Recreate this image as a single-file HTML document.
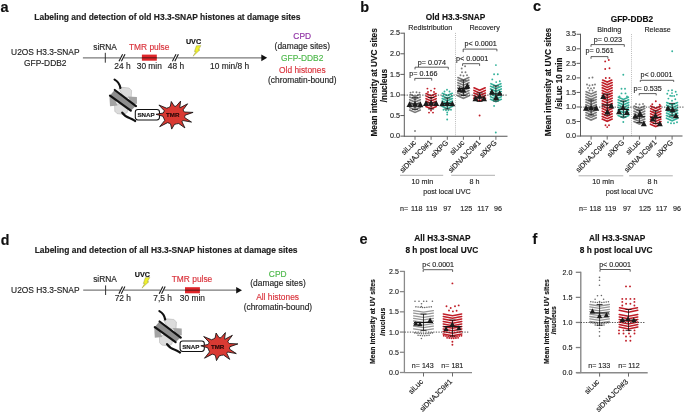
<!DOCTYPE html>
<html><head><meta charset="utf-8"><style>
html,body{margin:0;padding:0;background:#fff;}
#fig{position:relative;width:685px;height:412px;overflow:hidden;background:#fff;}
svg{display:block;font-family:"Liberation Sans", sans-serif;filter:blur(0.3px);}
</style></head><body><div id="fig">
<svg width="685" height="412" viewBox="0 0 685 412">
<text x="0.60" y="11.60" font-size="14.5" font-weight="bold" text-anchor="start" fill="#111" stroke="#111" stroke-width="0.15">a</text>
<text x="360.30" y="11.50" font-size="14.5" font-weight="bold" text-anchor="start" fill="#111" stroke="#111" stroke-width="0.15">b</text>
<text x="533.00" y="11.40" font-size="14.5" font-weight="bold" text-anchor="start" fill="#111" stroke="#111" stroke-width="0.15">c</text>
<text x="0.70" y="245.00" font-size="14.2" font-weight="bold" text-anchor="start" fill="#111" stroke="#111" stroke-width="0.15">d</text>
<text x="359.60" y="244.30" font-size="14.5" font-weight="bold" text-anchor="start" fill="#111" stroke="#111" stroke-width="0.15">e</text>
<text x="532.40" y="243.90" font-size="14.5" font-weight="bold" text-anchor="start" fill="#111" stroke="#111" stroke-width="0.15">f</text>
<text x="167.40" y="20.45" font-size="8.45" font-weight="bold" text-anchor="middle" fill="#222" stroke="#222" stroke-width="0.15">Labeling and detection of old H3.3-SNAP histones at damage sites</text>
<text x="45.30" y="55.45" font-size="8.4" text-anchor="middle" fill="#1e1e1e" stroke="#1e1e1e" stroke-width="0.15">U2OS H3.3-SNAP</text>
<text x="45.30" y="65.95" font-size="8.4" text-anchor="middle" fill="#1e1e1e" stroke="#1e1e1e" stroke-width="0.15">GFP-DDB2</text>
<line x1="82.90" y1="57.80" x2="262.00" y2="57.80" stroke="#7a7a7a" stroke-width="1.3"/>
<path d="M261.3,54.4 L267.2,57.8 L261.3,61.2 Z" fill="#111" stroke="none" stroke-width="1"/>
<line x1="105.30" y1="52.80" x2="105.30" y2="62.70" stroke="#333" stroke-width="1.0"/>
<text x="105.10" y="50.05" font-size="8.4" text-anchor="middle" fill="#1e1e1e" stroke="#1e1e1e" stroke-width="0.15">siRNA</text>
<text x="149.20" y="50.05" font-size="8.4" text-anchor="middle" fill="#d9313a" stroke="#d9313a" stroke-width="0.15">TMR pulse</text>
<rect x="141.90" y="54.60" width="14.90" height="6.10" fill="#e0262a"/>
<line x1="141.90" y1="57.80" x2="156.80" y2="57.80" stroke="#6a1a1a" stroke-width="1.2"/>
<rect x="120.10" y="56.60" width="3.80" height="2.40" fill="#fff"/>
<line x1="119.00" y1="61.30" x2="122.60" y2="54.20" stroke="#1a1a1a" stroke-width="1.1"/>
<line x1="121.40" y1="61.30" x2="125.00" y2="54.20" stroke="#1a1a1a" stroke-width="1.1"/>
<rect x="173.50" y="56.60" width="3.80" height="2.40" fill="#fff"/>
<line x1="172.40" y1="61.30" x2="176.00" y2="54.20" stroke="#1a1a1a" stroke-width="1.1"/>
<line x1="174.80" y1="61.30" x2="178.40" y2="54.20" stroke="#1a1a1a" stroke-width="1.1"/>
<text x="122.50" y="68.95" font-size="8.4" text-anchor="middle" fill="#1e1e1e" stroke="#1e1e1e" stroke-width="0.15">24 h</text>
<text x="149.30" y="68.95" font-size="8.4" text-anchor="middle" fill="#1e1e1e" stroke="#1e1e1e" stroke-width="0.15">30 min</text>
<text x="176.00" y="68.85" font-size="8.4" text-anchor="middle" fill="#1e1e1e" stroke="#1e1e1e" stroke-width="0.15">48 h</text>
<text x="229.60" y="68.95" font-size="8.4" text-anchor="middle" fill="#1e1e1e" stroke="#1e1e1e" stroke-width="0.15">10 min/8 h</text>
<text x="193.50" y="44.35" font-size="7.2" font-weight="bold" text-anchor="middle" fill="#111" stroke="#111" stroke-width="0.15">UVC</text>
<path d="M196.40,45.80 L200.90,45.60 L198.40,50.00 L200.00,49.80 L193.10,56.20 L195.90,51.40 L194.40,51.60 Z" fill="#eef02a" stroke="#8a8a30" stroke-width="0.4"/>
<text x="302.20" y="38.85" font-size="8.4" text-anchor="middle" fill="#8e2fa3" stroke="#8e2fa3" stroke-width="0.15">CPD</text>
<text x="302.30" y="48.85" font-size="8.4" text-anchor="middle" fill="#1e1e1e" stroke="#1e1e1e" stroke-width="0.15">(damage sites)</text>
<text x="302.20" y="61.15" font-size="8.4" text-anchor="middle" fill="#4db84a" stroke="#4db84a" stroke-width="0.15">GFP-DDB2</text>
<text x="302.30" y="73.35" font-size="8.4" text-anchor="middle" fill="#d9313a" stroke="#d9313a" stroke-width="0.15">Old histones</text>
<text x="302.30" y="83.05" font-size="8.4" text-anchor="middle" fill="#1e1e1e" stroke="#1e1e1e" stroke-width="0.15">(chromatin-bound)</text>
<g transform="translate(0.00,0.00)">
<path d="M118.8,88.6 L122,87.3 L129,88.0 L131.6,90.4 L131.2,97.5 L124,97.5 Z" fill="#dcdcdc" stroke="#a8a8a8" stroke-width="0.5"/>
<path d="M114.6,104.5 L121,103.5 L127.8,108 L127.2,112.6 L123.6,114.4 L117,113.6 L114.8,111.2 Z" fill="#dcdcdc" stroke="#a8a8a8" stroke-width="0.5"/>
<path d="M128.0,96.6 L136.9,97.0 L137.0,103.8 L131.5,104.2 Z" fill="#a4a4a4" stroke="none" stroke-width="1"/>
<path d="M109.4,95.8 L113.5,95.6 L117.5,105.6 L110.0,106.2 Z" fill="#a4a4a4" stroke="none" stroke-width="1"/>
<path d="M114.6,89.9 L135.8,105.9 L131.0,110.4 L110.0,95.6 Z" fill="#8e8e8e" stroke="none" stroke-width="1"/>
<line x1="114.80" y1="90.00" x2="136.00" y2="106.20" stroke="#111" stroke-width="2.2" stroke-linecap="round"/>
<line x1="110.00" y1="95.60" x2="130.80" y2="110.60" stroke="#111" stroke-width="2.2" stroke-linecap="round"/>
<path d="M114.6,79.6 C117.6,81.2 119.8,84.5 120.4,88.0" fill="none" stroke="#111" stroke-width="2.2" stroke-linecap="round"/>
<path d="M122.2,112.6 C124.5,116.0 127.5,117.5 130,118.2 C132.5,119 134,120.2 135.2,121.0" fill="none" stroke="#111" stroke-width="2.2" stroke-linecap="round"/>
<rect x="135.3" y="109.5" width="24.2" height="10.4" rx="2.6" fill="#fff" stroke="#111" stroke-width="1.05"/>
<text x="146.00" y="117.40" font-size="6.2" font-weight="bold" text-anchor="middle" fill="#1a1a1a" stroke="#1a1a1a" stroke-width="0.15">SNAP</text>
<path d="M164.25,110.68 L158.90,105.00 L166.72,108.22 L168.59,107.47 L170.32,106.53 L171.30,101.50 L174.16,106.02 L175.12,106.34 L176.14,106.18 L180.60,101.10 L179.77,107.33 L179.87,107.70 L180.32,107.62 L187.60,103.80 L183.10,109.85 L183.60,111.03 L184.52,112.04 L193.10,112.40 L185.20,115.18 L184.76,116.40 L184.78,117.68 L191.50,122.10 L183.10,120.56 L182.29,120.96 L181.94,121.68 L184.90,127.90 L178.76,123.51 L176.57,123.85 L174.44,124.38 L171.70,129.10 L170.59,123.95 L169.13,123.16 L167.49,122.67 L159.70,126.70 L164.76,120.39 L163.82,118.32 L162.87,116.24 L156.00,114.30 L163.11,113.06 L163.89,111.94 Z" fill="#d93a33" stroke="#111" stroke-width="0.85" stroke-linejoin="miter"/>
<text x="172.80" y="117.30" font-size="6.2" font-weight="bold" text-anchor="middle" fill="#2a0808" stroke="#2a0808" stroke-width="0.15">TMR</text>
</g>
<text x="166.10" y="253.25" font-size="8.45" font-weight="bold" text-anchor="middle" fill="#222" stroke="#222" stroke-width="0.15">Labeling and detection of all H3.3-SNAP histones at damage sites</text>
<text x="45.30" y="292.85" font-size="8.4" text-anchor="middle" fill="#1e1e1e" stroke="#1e1e1e" stroke-width="0.15">U2OS H3.3-SNAP</text>
<line x1="83.20" y1="290.20" x2="237.00" y2="290.20" stroke="#7a7a7a" stroke-width="1.3"/>
<path d="M236.2,286.9 L242.0,290.2 L236.2,293.5 Z" fill="#111" stroke="none" stroke-width="1"/>
<line x1="105.60" y1="285.40" x2="105.60" y2="295.00" stroke="#333" stroke-width="1.0"/>
<text x="105.00" y="282.35" font-size="8.4" text-anchor="middle" fill="#1e1e1e" stroke="#1e1e1e" stroke-width="0.15">siRNA</text>
<rect x="120.00" y="289.00" width="3.80" height="2.40" fill="#fff"/>
<line x1="118.90" y1="293.70" x2="122.50" y2="286.60" stroke="#1a1a1a" stroke-width="1.1"/>
<line x1="121.30" y1="293.70" x2="124.90" y2="286.60" stroke="#1a1a1a" stroke-width="1.1"/>
<rect x="160.30" y="289.00" width="3.80" height="2.40" fill="#fff"/>
<line x1="159.20" y1="293.70" x2="162.80" y2="286.60" stroke="#1a1a1a" stroke-width="1.1"/>
<line x1="161.60" y1="293.70" x2="165.20" y2="286.60" stroke="#1a1a1a" stroke-width="1.1"/>
<text x="122.80" y="300.75" font-size="8.4" text-anchor="middle" fill="#1e1e1e" stroke="#1e1e1e" stroke-width="0.15">72 h</text>
<text x="162.60" y="300.75" font-size="8.4" text-anchor="middle" fill="#1e1e1e" stroke="#1e1e1e" stroke-width="0.15">7,5 h</text>
<text x="142.30" y="277.05" font-size="7.2" font-weight="bold" text-anchor="middle" fill="#111" stroke="#111" stroke-width="0.15">UVC</text>
<path d="M145.30,277.70 L149.80,277.50 L147.30,281.90 L148.90,281.70 L142.00,288.10 L144.80,283.30 L143.30,283.50 Z" fill="#eef02a" stroke="#8a8a30" stroke-width="0.4"/>
<text x="192.00" y="282.35" font-size="8.4" text-anchor="middle" fill="#d9313a" stroke="#d9313a" stroke-width="0.15">TMR pulse</text>
<rect x="185.00" y="287.20" width="14.90" height="6.10" fill="#e0262a"/>
<line x1="185.00" y1="290.20" x2="199.90" y2="290.20" stroke="#6a1a1a" stroke-width="1.2"/>
<text x="192.40" y="300.75" font-size="8.4" text-anchor="middle" fill="#1e1e1e" stroke="#1e1e1e" stroke-width="0.15">30 min</text>
<text x="277.70" y="276.55" font-size="8.4" text-anchor="middle" fill="#4db84a" stroke="#4db84a" stroke-width="0.15">CPD</text>
<text x="278.00" y="286.35" font-size="8.4" text-anchor="middle" fill="#1e1e1e" stroke="#1e1e1e" stroke-width="0.15">(damage sites)</text>
<text x="277.60" y="299.85" font-size="8.4" text-anchor="middle" fill="#d9313a" stroke="#d9313a" stroke-width="0.15">All histones</text>
<text x="277.90" y="309.85" font-size="8.4" text-anchor="middle" fill="#1e1e1e" stroke="#1e1e1e" stroke-width="0.15">(chromatin-bound)</text>
<g transform="translate(44.80,231.50)">
<path d="M118.8,88.6 L122,87.3 L129,88.0 L131.6,90.4 L131.2,97.5 L124,97.5 Z" fill="#dcdcdc" stroke="#a8a8a8" stroke-width="0.5"/>
<path d="M114.6,104.5 L121,103.5 L127.8,108 L127.2,112.6 L123.6,114.4 L117,113.6 L114.8,111.2 Z" fill="#dcdcdc" stroke="#a8a8a8" stroke-width="0.5"/>
<path d="M128.0,96.6 L136.9,97.0 L137.0,103.8 L131.5,104.2 Z" fill="#a4a4a4" stroke="none" stroke-width="1"/>
<path d="M109.4,95.8 L113.5,95.6 L117.5,105.6 L110.0,106.2 Z" fill="#a4a4a4" stroke="none" stroke-width="1"/>
<path d="M114.6,89.9 L135.8,105.9 L131.0,110.4 L110.0,95.6 Z" fill="#8e8e8e" stroke="none" stroke-width="1"/>
<line x1="114.80" y1="90.00" x2="136.00" y2="106.20" stroke="#111" stroke-width="2.2" stroke-linecap="round"/>
<line x1="110.00" y1="95.60" x2="130.80" y2="110.60" stroke="#111" stroke-width="2.2" stroke-linecap="round"/>
<path d="M114.6,79.6 C117.6,81.2 119.8,84.5 120.4,88.0" fill="none" stroke="#111" stroke-width="2.2" stroke-linecap="round"/>
<path d="M122.2,112.6 C124.5,116.0 127.5,117.5 130,118.2 C132.5,119 134,120.2 135.2,121.0" fill="none" stroke="#111" stroke-width="2.2" stroke-linecap="round"/>
<rect x="135.3" y="109.5" width="24.2" height="10.4" rx="2.6" fill="#fff" stroke="#111" stroke-width="1.05"/>
<text x="146.00" y="117.40" font-size="6.2" font-weight="bold" text-anchor="middle" fill="#1a1a1a" stroke="#1a1a1a" stroke-width="0.15">SNAP</text>
<path d="M164.25,110.68 L158.90,105.00 L166.72,108.22 L168.59,107.47 L170.32,106.53 L171.30,101.50 L174.16,106.02 L175.12,106.34 L176.14,106.18 L180.60,101.10 L179.77,107.33 L179.87,107.70 L180.32,107.62 L187.60,103.80 L183.10,109.85 L183.60,111.03 L184.52,112.04 L193.10,112.40 L185.20,115.18 L184.76,116.40 L184.78,117.68 L191.50,122.10 L183.10,120.56 L182.29,120.96 L181.94,121.68 L184.90,127.90 L178.76,123.51 L176.57,123.85 L174.44,124.38 L171.70,129.10 L170.59,123.95 L169.13,123.16 L167.49,122.67 L159.70,126.70 L164.76,120.39 L163.82,118.32 L162.87,116.24 L156.00,114.30 L163.11,113.06 L163.89,111.94 Z" fill="#d93a33" stroke="#111" stroke-width="0.85" stroke-linejoin="miter"/>
<text x="172.80" y="117.30" font-size="6.2" font-weight="bold" text-anchor="middle" fill="#2a0808" stroke="#2a0808" stroke-width="0.15">TMR</text>
</g>
<text x="455.60" y="19.60" font-size="8.3" font-weight="bold" text-anchor="middle" fill="#111" stroke="#111" stroke-width="0.15">Old H3.3-SNAP</text>
<text x="0.00" y="0.00" font-size="7.9" text-anchor="middle" fill="#1e1e1e" stroke="#1e1e1e" stroke-width="0.15" transform="translate(430.30 30.10) scale(0.91 1)">Redistribution</text>
<text x="0.00" y="0.00" font-size="7.9" text-anchor="middle" fill="#1e1e1e" stroke="#1e1e1e" stroke-width="0.15" transform="translate(484.60 30.10) scale(0.91 1)">Recovery</text>
<line x1="455.50" y1="32.90" x2="455.50" y2="136.30" stroke="#a8a8a8" stroke-width="0.8" stroke-dasharray="1,1.1"/>
<line x1="404.30" y1="32.70" x2="404.30" y2="136.80" stroke="#5a5a5a" stroke-width="1.0"/>
<line x1="400.40" y1="136.15" x2="404.30" y2="136.15" stroke="#5a5a5a" stroke-width="1.0"/>
<text x="0.00" y="0.00" font-size="7.9" text-anchor="end" fill="#222" stroke="#222" stroke-width="0.15" transform="translate(399.90 138.35) scale(0.91 1)">0.0</text>
<line x1="400.40" y1="115.56" x2="404.30" y2="115.56" stroke="#5a5a5a" stroke-width="1.0"/>
<text x="0.00" y="0.00" font-size="7.9" text-anchor="end" fill="#222" stroke="#222" stroke-width="0.15" transform="translate(399.90 117.76) scale(0.91 1)">0.5</text>
<line x1="400.40" y1="94.97" x2="404.30" y2="94.97" stroke="#5a5a5a" stroke-width="1.0"/>
<text x="0.00" y="0.00" font-size="7.9" text-anchor="end" fill="#222" stroke="#222" stroke-width="0.15" transform="translate(399.90 97.17) scale(0.91 1)">1.0</text>
<line x1="400.40" y1="74.38" x2="404.30" y2="74.38" stroke="#5a5a5a" stroke-width="1.0"/>
<text x="0.00" y="0.00" font-size="7.9" text-anchor="end" fill="#222" stroke="#222" stroke-width="0.15" transform="translate(399.90 76.58) scale(0.91 1)">1.5</text>
<line x1="400.40" y1="53.79" x2="404.30" y2="53.79" stroke="#5a5a5a" stroke-width="1.0"/>
<text x="0.00" y="0.00" font-size="7.9" text-anchor="end" fill="#222" stroke="#222" stroke-width="0.15" transform="translate(399.90 55.99) scale(0.91 1)">2.0</text>
<line x1="400.40" y1="33.20" x2="404.30" y2="33.20" stroke="#5a5a5a" stroke-width="1.0"/>
<text x="0.00" y="0.00" font-size="7.9" text-anchor="end" fill="#222" stroke="#222" stroke-width="0.15" transform="translate(399.90 35.40) scale(0.91 1)">2.5</text>
<path d="M410.40,94.50L415.00,96.57L419.60,94.50M409.70,97.10L415.00,99.48L420.30,97.10M409.70,99.70L415.00,102.08L420.30,99.70M409.70,102.30L415.00,104.68L420.30,102.30M409.70,104.90L415.00,107.28L420.30,104.90M409.70,107.50L415.00,109.88L420.30,107.50M409.70,110.10L415.00,112.48L420.30,110.10" fill="none" stroke="#7c7c7c" stroke-width="1.6" stroke-linecap="round"/>
<g fill="#7c7c7c"><circle cx="410.50" cy="92.60" r="0.95"/><circle cx="413.00" cy="92.10" r="0.95"/><circle cx="416.50" cy="92.30" r="0.95"/><circle cx="419.50" cy="92.60" r="0.95"/><circle cx="415.00" cy="131.00" r="0.95"/></g>
<path d="M426.10,93.50L431.10,95.75L436.10,93.50M426.06,96.10L431.10,98.37L436.14,96.10M426.03,98.70L431.10,100.98L436.17,98.70M425.99,101.30L431.10,103.60L436.21,101.30M425.96,103.90L431.10,106.21L436.24,103.90M425.92,106.50L431.10,108.83L436.28,106.50" fill="none" stroke="#c01d27" stroke-width="1.6" stroke-linecap="round"/>
<g fill="#c01d27"><circle cx="427.40" cy="88.60" r="0.95"/><circle cx="434.60" cy="88.60" r="0.95"/><circle cx="431.00" cy="90.60" r="0.95"/><circle cx="428.00" cy="92.00" r="0.95"/><circle cx="434.00" cy="92.00" r="0.95"/><circle cx="429.00" cy="112.60" r="0.95"/><circle cx="433.00" cy="112.60" r="0.95"/><circle cx="431.00" cy="110.60" r="0.95"/></g>
<path d="M442.30,93.30L447.30,95.55L452.30,93.30M442.24,95.90L447.30,98.18L452.36,95.90M442.18,98.50L447.30,100.80L452.42,98.50M442.12,101.10L447.30,103.43L452.48,101.10M442.06,103.70L447.30,106.06L452.54,103.70M442.00,106.30L447.30,108.68L452.60,106.30" fill="none" stroke="#34b29b" stroke-width="1.6" stroke-linecap="round"/>
<g fill="#34b29b"><circle cx="447.00" cy="89.70" r="0.95"/><circle cx="444.50" cy="91.50" r="0.95"/><circle cx="449.50" cy="91.50" r="0.95"/><circle cx="443.50" cy="109.80" r="0.95"/><circle cx="446.00" cy="110.30" r="0.95"/><circle cx="448.50" cy="110.30" r="0.95"/><circle cx="451.00" cy="109.80" r="0.95"/><circle cx="447.20" cy="112.50" r="0.95"/><circle cx="447.20" cy="114.60" r="0.95"/><circle cx="447.20" cy="119.50" r="0.95"/></g>
<path d="M457.90,77.50L463.40,79.97L468.90,77.50M457.87,80.10L463.40,82.59L468.93,80.10M457.84,82.70L463.40,85.20L468.96,82.70M457.82,85.30L463.40,87.81L468.98,85.30M457.79,87.90L463.40,90.43L469.01,87.90M457.76,90.50L463.40,93.04L469.04,90.50M457.73,93.10L463.40,95.65L469.07,93.10M457.70,95.70L463.40,98.26L469.10,95.70" fill="none" stroke="#7c7c7c" stroke-width="1.6" stroke-linecap="round"/>
<g fill="#7c7c7c"><circle cx="461.70" cy="68.50" r="0.95"/><circle cx="465.10" cy="66.20" r="0.95"/><circle cx="462.00" cy="72.20" r="0.95"/><circle cx="465.50" cy="72.20" r="0.95"/><circle cx="460.50" cy="75.20" r="0.95"/><circle cx="463.50" cy="75.80" r="0.95"/><circle cx="467.00" cy="75.20" r="0.95"/></g>
<path d="M474.00,87.80L479.60,90.32L485.20,87.80M473.92,90.40L479.60,92.96L485.28,90.40M473.84,93.00L479.60,95.59L485.36,93.00M473.75,95.60L479.60,98.23L485.45,95.60M473.67,98.20L479.60,100.87L485.53,98.20" fill="none" stroke="#c01d27" stroke-width="1.6" stroke-linecap="round"/>
<g fill="#c01d27"><circle cx="479.60" cy="115.50" r="0.95"/></g>
<path d="M490.90,83.70L495.90,85.95L500.90,83.70M490.50,86.30L495.90,88.73L501.30,86.30M490.50,88.90L495.90,91.33L501.30,88.90M490.50,91.50L495.90,93.93L501.30,91.50M490.50,94.10L495.90,96.53L501.30,94.10M490.50,96.70L495.90,99.13L501.30,96.70M490.50,99.30L495.90,101.73L501.30,99.30" fill="none" stroke="#34b29b" stroke-width="1.6" stroke-linecap="round"/>
<g fill="#34b29b"><circle cx="495.90" cy="65.10" r="0.95"/><circle cx="494.10" cy="74.30" r="0.95"/><circle cx="497.80" cy="74.30" r="0.95"/><circle cx="492.30" cy="79.40" r="0.95"/><circle cx="496.20" cy="82.10" r="0.95"/><circle cx="499.80" cy="81.30" r="0.95"/><circle cx="494.10" cy="105.90" r="0.95"/><circle cx="495.80" cy="132.50" r="0.95"/></g>
<line x1="404.00" y1="95.10" x2="508.00" y2="95.10" stroke="#222" stroke-width="0.8" stroke-dasharray="1.3,1.3"/>
<line x1="415.00" y1="97.60" x2="415.00" y2="109.30" stroke="#111" stroke-width="0.8"/>
<line x1="412.00" y1="97.60" x2="418.00" y2="97.60" stroke="#111" stroke-width="0.8"/>
<line x1="412.00" y1="109.30" x2="418.00" y2="109.30" stroke="#111" stroke-width="0.8"/>
<line x1="409.50" y1="104.00" x2="420.50" y2="104.00" stroke="#111" stroke-width="1.1"/>
<path d="M406.50,107.05 L409.50,101.35 L412.50,107.05 Z" fill="#1c1c1c" stroke="none" stroke-width="1"/>
<path d="M412.00,106.85 L415.00,101.15 L418.00,106.85 Z" fill="#1c1c1c" stroke="none" stroke-width="1"/>
<path d="M417.40,107.15 L420.40,101.45 L423.40,107.15 Z" fill="#1c1c1c" stroke="none" stroke-width="1"/>
<line x1="431.10" y1="97.50" x2="431.10" y2="109.00" stroke="#111" stroke-width="0.8"/>
<line x1="428.10" y1="97.50" x2="434.10" y2="97.50" stroke="#111" stroke-width="0.8"/>
<line x1="428.10" y1="109.00" x2="434.10" y2="109.00" stroke="#111" stroke-width="0.8"/>
<line x1="425.60" y1="103.00" x2="436.60" y2="103.00" stroke="#111" stroke-width="1.1"/>
<path d="M423.00,105.95 L426.00,100.25 L429.00,105.95 Z" fill="#1c1c1c" stroke="none" stroke-width="1"/>
<path d="M428.10,105.65 L431.10,99.95 L434.10,105.65 Z" fill="#1c1c1c" stroke="none" stroke-width="1"/>
<path d="M433.20,106.05 L436.20,100.35 L439.20,106.05 Z" fill="#1c1c1c" stroke="none" stroke-width="1"/>
<line x1="447.30" y1="98.00" x2="447.30" y2="109.00" stroke="#111" stroke-width="0.8"/>
<line x1="444.30" y1="98.00" x2="450.30" y2="98.00" stroke="#111" stroke-width="0.8"/>
<line x1="444.30" y1="109.00" x2="450.30" y2="109.00" stroke="#111" stroke-width="0.8"/>
<line x1="441.80" y1="103.40" x2="452.80" y2="103.40" stroke="#111" stroke-width="1.1"/>
<path d="M439.30,106.25 L442.30,100.55 L445.30,106.25 Z" fill="#1c1c1c" stroke="none" stroke-width="1"/>
<path d="M444.30,106.05 L447.30,100.35 L450.30,106.05 Z" fill="#1c1c1c" stroke="none" stroke-width="1"/>
<path d="M449.30,106.35 L452.30,100.65 L455.30,106.35 Z" fill="#1c1c1c" stroke="none" stroke-width="1"/>
<line x1="463.40" y1="80.20" x2="463.40" y2="95.40" stroke="#111" stroke-width="0.8"/>
<line x1="460.40" y1="80.20" x2="466.40" y2="80.20" stroke="#111" stroke-width="0.8"/>
<line x1="460.40" y1="95.40" x2="466.40" y2="95.40" stroke="#111" stroke-width="0.8"/>
<line x1="457.90" y1="88.50" x2="468.90" y2="88.50" stroke="#111" stroke-width="1.1"/>
<path d="M456.70,92.15 L459.70,86.45 L462.70,92.15 Z" fill="#1c1c1c" stroke="none" stroke-width="1"/>
<path d="M464.30,88.55 L467.30,82.85 L470.30,88.55 Z" fill="#1c1c1c" stroke="none" stroke-width="1"/>
<path d="M460.30,92.45 L463.30,86.75 L466.30,92.45 Z" fill="#1c1c1c" stroke="none" stroke-width="1"/>
<line x1="479.60" y1="93.00" x2="479.60" y2="101.50" stroke="#111" stroke-width="0.8"/>
<line x1="476.60" y1="93.00" x2="482.60" y2="93.00" stroke="#111" stroke-width="0.8"/>
<line x1="476.60" y1="101.50" x2="482.60" y2="101.50" stroke="#111" stroke-width="0.8"/>
<line x1="474.10" y1="97.20" x2="485.10" y2="97.20" stroke="#111" stroke-width="1.1"/>
<path d="M472.50,101.25 L475.50,95.55 L478.50,101.25 Z" fill="#1c1c1c" stroke="none" stroke-width="1"/>
<path d="M476.60,98.85 L479.60,93.15 L482.60,98.85 Z" fill="#1c1c1c" stroke="none" stroke-width="1"/>
<path d="M481.00,101.25 L484.00,95.55 L487.00,101.25 Z" fill="#1c1c1c" stroke="none" stroke-width="1"/>
<line x1="495.90" y1="86.00" x2="495.90" y2="101.00" stroke="#111" stroke-width="0.8"/>
<line x1="492.90" y1="86.00" x2="498.90" y2="86.00" stroke="#111" stroke-width="0.8"/>
<line x1="492.90" y1="101.00" x2="498.90" y2="101.00" stroke="#111" stroke-width="0.8"/>
<line x1="490.40" y1="94.00" x2="501.40" y2="94.00" stroke="#111" stroke-width="1.1"/>
<path d="M488.90,94.55 L491.90,88.85 L494.90,94.55 Z" fill="#1c1c1c" stroke="none" stroke-width="1"/>
<path d="M496.70,95.85 L499.70,90.15 L502.70,95.85 Z" fill="#1c1c1c" stroke="none" stroke-width="1"/>
<path d="M493.10,100.05 L496.10,94.35 L499.10,100.05 Z" fill="#1c1c1c" stroke="none" stroke-width="1"/>
<line x1="404.30" y1="136.20" x2="507.50" y2="136.20" stroke="#555" stroke-width="1.05"/>
<line x1="415.00" y1="136.30" x2="415.00" y2="139.80" stroke="#5a5a5a" stroke-width="0.9"/>
<line x1="431.10" y1="136.30" x2="431.10" y2="139.80" stroke="#5a5a5a" stroke-width="0.9"/>
<line x1="447.30" y1="136.30" x2="447.30" y2="139.80" stroke="#5a5a5a" stroke-width="0.9"/>
<line x1="463.40" y1="136.30" x2="463.40" y2="139.80" stroke="#5a5a5a" stroke-width="0.9"/>
<line x1="479.60" y1="136.30" x2="479.60" y2="139.80" stroke="#5a5a5a" stroke-width="0.9"/>
<line x1="495.90" y1="136.30" x2="495.90" y2="139.80" stroke="#5a5a5a" stroke-width="0.9"/>
<text x="0.00" y="0.00" font-size="7.9" text-anchor="middle" fill="#1e1e1e" stroke="#1e1e1e" stroke-width="0.15" transform="translate(423.30 76.30) scale(0.91 1)">p= 0.166</text>
<path d="M414.80,80.60 L414.80,78.40 L431.70,78.40 L431.70,80.60" fill="none" stroke="#333" stroke-width="0.8"/>
<text x="0.00" y="0.00" font-size="7.9" text-anchor="middle" fill="#1e1e1e" stroke="#1e1e1e" stroke-width="0.15" transform="translate(431.80 64.70) scale(0.91 1)">p= 0.074</text>
<path d="M415.00,69.40 L415.00,67.20 L448.30,67.20 L448.30,69.40" fill="none" stroke="#333" stroke-width="0.8"/>
<text x="0.00" y="0.00" font-size="7.9" text-anchor="middle" fill="#1e1e1e" stroke="#1e1e1e" stroke-width="0.15" transform="translate(472.20 60.80) scale(0.91 1)">p&lt; 0.0001</text>
<path d="M462.60,65.90 L462.60,63.70 L479.60,63.70 L479.60,65.90" fill="none" stroke="#333" stroke-width="0.8"/>
<text x="0.00" y="0.00" font-size="7.9" text-anchor="middle" fill="#1e1e1e" stroke="#1e1e1e" stroke-width="0.15" transform="translate(480.60 46.20) scale(0.91 1)">p&lt; 0.0001</text>
<path d="M463.20,52.10 L463.20,49.10 L496.90,49.10 L496.90,51.30" fill="none" stroke="#333" stroke-width="0.8"/>
<text x="377.30" y="82.40" font-size="8.3" font-weight="bold" text-anchor="middle" fill="#111" stroke="#111" stroke-width="0.15" transform="rotate(-90 377.30 82.40)">Mean intensity at UVC sites</text>
<text x="387.20" y="85.60" font-size="8.2" font-weight="bold" text-anchor="middle" fill="#111" stroke="#111" stroke-width="0.15" transform="rotate(-90 387.20 85.60)">/nucleus</text>
<text x="416.50" y="143.10" font-size="7.4" text-anchor="end" fill="#222" stroke="#222" stroke-width="0.15" transform="rotate(-45 416.50 143.10)">siLuc</text>
<text x="432.60" y="143.10" font-size="7.4" text-anchor="end" fill="#222" stroke="#222" stroke-width="0.15" transform="rotate(-45 432.60 143.10)">siDNAJC9#1</text>
<text x="448.80" y="143.10" font-size="7.4" text-anchor="end" fill="#222" stroke="#222" stroke-width="0.15" transform="rotate(-45 448.80 143.10)">siXPG</text>
<text x="464.90" y="143.10" font-size="7.4" text-anchor="end" fill="#222" stroke="#222" stroke-width="0.15" transform="rotate(-45 464.90 143.10)">siLuc</text>
<text x="481.10" y="143.10" font-size="7.4" text-anchor="end" fill="#222" stroke="#222" stroke-width="0.15" transform="rotate(-45 481.10 143.10)">siDNAJC9#1</text>
<text x="497.40" y="143.10" font-size="7.4" text-anchor="end" fill="#222" stroke="#222" stroke-width="0.15" transform="rotate(-45 497.40 143.10)">siXPG</text>
<line x1="400.00" y1="175.30" x2="443.20" y2="175.30" stroke="#b0b0b0" stroke-width="1.0"/>
<line x1="451.20" y1="175.30" x2="495.00" y2="175.30" stroke="#b0b0b0" stroke-width="1.0"/>
<text x="0.00" y="0.00" font-size="7.9" text-anchor="middle" fill="#1e1e1e" stroke="#1e1e1e" stroke-width="0.15" transform="translate(422.40 183.50) scale(0.91 1)">10 min</text>
<text x="0.00" y="0.00" font-size="7.9" text-anchor="middle" fill="#1e1e1e" stroke="#1e1e1e" stroke-width="0.15" transform="translate(474.40 183.50) scale(0.91 1)">8 h</text>
<text x="0.00" y="0.00" font-size="7.9" text-anchor="middle" fill="#1e1e1e" stroke="#1e1e1e" stroke-width="0.15" transform="translate(446.90 193.80) scale(0.91 1)">post local UVC</text>
<text x="0.00" y="0.00" font-size="7.9" text-anchor="middle" fill="#1e1e1e" stroke="#1e1e1e" stroke-width="0.15" transform="translate(404.00 210.70) scale(0.91 1)">n=</text>
<text x="0.00" y="0.00" font-size="7.9" text-anchor="middle" fill="#1e1e1e" stroke="#1e1e1e" stroke-width="0.15" transform="translate(416.80 210.70) scale(0.91 1)">118</text>
<text x="0.00" y="0.00" font-size="7.9" text-anchor="middle" fill="#1e1e1e" stroke="#1e1e1e" stroke-width="0.15" transform="translate(431.50 210.70) scale(0.91 1)">119</text>
<text x="0.00" y="0.00" font-size="7.9" text-anchor="middle" fill="#1e1e1e" stroke="#1e1e1e" stroke-width="0.15" transform="translate(447.30 210.70) scale(0.91 1)">97</text>
<text x="0.00" y="0.00" font-size="7.9" text-anchor="middle" fill="#1e1e1e" stroke="#1e1e1e" stroke-width="0.15" transform="translate(466.20 210.70) scale(0.91 1)">125</text>
<text x="0.00" y="0.00" font-size="7.9" text-anchor="middle" fill="#1e1e1e" stroke="#1e1e1e" stroke-width="0.15" transform="translate(483.10 210.70) scale(0.91 1)">117</text>
<text x="0.00" y="0.00" font-size="7.9" text-anchor="middle" fill="#1e1e1e" stroke="#1e1e1e" stroke-width="0.15" transform="translate(498.00 210.70) scale(0.91 1)">96</text>
<text x="631.90" y="21.60" font-size="8.3" font-weight="bold" text-anchor="middle" fill="#111" stroke="#111" stroke-width="0.15">GFP-DDB2</text>
<text x="0.00" y="0.00" font-size="7.9" text-anchor="middle" fill="#1e1e1e" stroke="#1e1e1e" stroke-width="0.15" transform="translate(609.20 31.90) scale(0.91 1)">Binding</text>
<text x="0.00" y="0.00" font-size="7.9" text-anchor="middle" fill="#1e1e1e" stroke="#1e1e1e" stroke-width="0.15" transform="translate(657.60 31.90) scale(0.91 1)">Release</text>
<line x1="631.50" y1="34.10" x2="631.50" y2="136.10" stroke="#a8a8a8" stroke-width="0.8" stroke-dasharray="1,1.1"/>
<line x1="580.50" y1="33.77" x2="580.50" y2="136.55" stroke="#5a5a5a" stroke-width="1.0"/>
<line x1="576.60" y1="136.05" x2="580.50" y2="136.05" stroke="#5a5a5a" stroke-width="1.0"/>
<text x="0.00" y="0.00" font-size="7.9" text-anchor="end" fill="#222" stroke="#222" stroke-width="0.15" transform="translate(576.10 138.25) scale(0.91 1)">0.0</text>
<line x1="576.60" y1="121.51" x2="580.50" y2="121.51" stroke="#5a5a5a" stroke-width="1.0"/>
<text x="0.00" y="0.00" font-size="7.9" text-anchor="end" fill="#222" stroke="#222" stroke-width="0.15" transform="translate(576.10 123.71) scale(0.91 1)">0.5</text>
<line x1="576.60" y1="106.97" x2="580.50" y2="106.97" stroke="#5a5a5a" stroke-width="1.0"/>
<text x="0.00" y="0.00" font-size="7.9" text-anchor="end" fill="#222" stroke="#222" stroke-width="0.15" transform="translate(576.10 109.17) scale(0.91 1)">1.0</text>
<line x1="576.60" y1="92.43" x2="580.50" y2="92.43" stroke="#5a5a5a" stroke-width="1.0"/>
<text x="0.00" y="0.00" font-size="7.9" text-anchor="end" fill="#222" stroke="#222" stroke-width="0.15" transform="translate(576.10 94.63) scale(0.91 1)">1.5</text>
<line x1="576.60" y1="77.89" x2="580.50" y2="77.89" stroke="#5a5a5a" stroke-width="1.0"/>
<text x="0.00" y="0.00" font-size="7.9" text-anchor="end" fill="#222" stroke="#222" stroke-width="0.15" transform="translate(576.10 80.09) scale(0.91 1)">2.0</text>
<line x1="576.60" y1="63.35" x2="580.50" y2="63.35" stroke="#5a5a5a" stroke-width="1.0"/>
<text x="0.00" y="0.00" font-size="7.9" text-anchor="end" fill="#222" stroke="#222" stroke-width="0.15" transform="translate(576.10 65.55) scale(0.91 1)">2.5</text>
<line x1="576.60" y1="48.81" x2="580.50" y2="48.81" stroke="#5a5a5a" stroke-width="1.0"/>
<text x="0.00" y="0.00" font-size="7.9" text-anchor="end" fill="#222" stroke="#222" stroke-width="0.15" transform="translate(576.10 51.01) scale(0.91 1)">3.0</text>
<line x1="576.60" y1="34.27" x2="580.50" y2="34.27" stroke="#5a5a5a" stroke-width="1.0"/>
<text x="0.00" y="0.00" font-size="7.9" text-anchor="end" fill="#222" stroke="#222" stroke-width="0.15" transform="translate(576.10 36.47) scale(0.91 1)">3.5</text>
<path d="M586.10,91.70L591.10,93.95L596.10,91.70M585.90,94.30L591.10,96.64L596.30,94.30M585.90,96.90L591.10,99.24L596.30,96.90M585.90,99.50L591.10,101.84L596.30,99.50M585.90,102.10L591.10,104.44L596.30,102.10M585.90,104.70L591.10,107.04L596.30,104.70M585.90,107.30L591.10,109.64L596.30,107.30M585.90,109.90L591.10,112.24L596.30,109.90M585.90,112.50L591.10,114.84L596.30,112.50M585.90,115.10L591.10,117.44L596.30,115.10M585.90,117.70L591.10,120.04L596.30,117.70" fill="none" stroke="#7c7c7c" stroke-width="1.6" stroke-linecap="round"/>
<g fill="#7c7c7c"><circle cx="589.20" cy="77.90" r="0.95"/><circle cx="592.50" cy="77.50" r="0.95"/><circle cx="587.00" cy="84.50" r="0.95"/><circle cx="589.50" cy="85.50" r="0.95"/><circle cx="592.50" cy="85.00" r="0.95"/><circle cx="595.00" cy="84.50" r="0.95"/><circle cx="588.00" cy="88.00" r="0.95"/><circle cx="591.00" cy="88.40" r="0.95"/><circle cx="594.00" cy="88.00" r="0.95"/><circle cx="589.50" cy="90.50" r="0.95"/><circle cx="592.50" cy="90.50" r="0.95"/></g>
<path d="M602.60,80.00L607.20,82.07L611.80,80.00M602.20,82.60L607.20,84.85L612.20,82.60M602.20,85.20L607.20,87.45L612.20,85.20M602.20,87.80L607.20,90.05L612.20,87.80M602.20,90.40L607.20,92.65L612.20,90.40M602.20,93.00L607.20,95.25L612.20,93.00M602.20,95.60L607.20,97.85L612.20,95.60M602.20,98.20L607.20,100.45L612.20,98.20M602.20,100.80L607.20,103.05L612.20,100.80M602.20,103.40L607.20,105.65L612.20,103.40M602.20,106.00L607.20,108.25L612.20,106.00M602.20,108.60L607.20,110.85L612.20,108.60M602.20,111.20L607.20,113.45L612.20,111.20M602.20,113.80L607.20,116.05L612.20,113.80M602.20,116.40L607.20,118.65L612.20,116.40M602.20,119.00L607.20,121.25L612.20,119.00" fill="none" stroke="#c01d27" stroke-width="1.6" stroke-linecap="round"/>
<g fill="#c01d27"><circle cx="605.20" cy="61.40" r="0.95"/><circle cx="608.80" cy="60.00" r="0.95"/><circle cx="605.20" cy="69.00" r="0.95"/><circle cx="609.50" cy="68.20" r="0.95"/><circle cx="605.80" cy="78.00" r="0.95"/><circle cx="609.50" cy="78.00" r="0.95"/><circle cx="605.50" cy="125.30" r="0.95"/><circle cx="609.00" cy="125.30" r="0.95"/><circle cx="607.20" cy="127.10" r="0.95"/></g>
<path d="M618.40,97.20L623.40,99.45L628.40,97.20M618.10,99.80L623.40,102.19L628.70,99.80M618.10,102.40L623.40,104.78L628.70,102.40M618.10,105.00L623.40,107.38L628.70,105.00M618.10,107.60L623.40,109.98L628.70,107.60M618.10,110.20L623.40,112.58L628.70,110.20M618.10,112.80L623.40,115.18L628.70,112.80M618.10,115.40L623.40,117.78L628.70,115.40" fill="none" stroke="#34b29b" stroke-width="1.6" stroke-linecap="round"/>
<g fill="#34b29b"><circle cx="623.30" cy="74.80" r="0.95"/><circle cx="621.50" cy="88.80" r="0.95"/><circle cx="625.00" cy="88.80" r="0.95"/><circle cx="621.50" cy="93.40" r="0.95"/><circle cx="625.50" cy="93.40" r="0.95"/><circle cx="619.50" cy="96.50" r="0.95"/><circle cx="627.00" cy="96.50" r="0.95"/><circle cx="623.30" cy="122.00" r="0.95"/></g>
<path d="M634.10,106.00L639.40,108.39L644.70,106.00M634.07,108.60L639.40,111.00L644.73,108.60M634.04,111.20L639.40,113.61L644.76,111.20M634.01,113.80L639.40,116.22L644.79,113.80M633.98,116.40L639.40,118.84L644.82,116.40M633.96,119.00L639.40,121.45L644.84,119.00M633.93,121.60L639.40,124.06L644.87,121.60" fill="none" stroke="#7c7c7c" stroke-width="1.6" stroke-linecap="round"/>
<g fill="#7c7c7c"><circle cx="636.00" cy="103.90" r="0.95"/><circle cx="639.50" cy="104.50" r="0.95"/><circle cx="643.00" cy="103.90" r="0.95"/></g>
<path d="M650.60,106.00L655.70,108.30L660.80,106.00M650.57,108.60L655.70,110.91L660.83,108.60M650.54,111.20L655.70,113.52L660.86,111.20M650.52,113.80L655.70,116.13L660.88,113.80M650.49,116.40L655.70,118.75L660.91,116.40M650.46,119.00L655.70,121.36L660.94,119.00M650.43,121.60L655.70,123.97L660.97,121.60M650.40,124.20L655.70,126.58L661.00,124.20" fill="none" stroke="#c01d27" stroke-width="1.6" stroke-linecap="round"/>
<g fill="#c01d27"><circle cx="655.80" cy="101.20" r="0.95"/><circle cx="652.30" cy="104.30" r="0.95"/><circle cx="659.70" cy="104.70" r="0.95"/></g>
<path d="M666.70,102.60L672.10,105.03L677.50,102.60M666.65,105.20L672.10,107.65L677.55,105.20M666.60,107.80L672.10,110.27L677.60,107.80M666.55,110.40L672.10,112.90L677.65,110.40M666.50,113.00L672.10,115.52L677.70,113.00M666.45,115.60L672.10,118.14L677.75,115.60M666.41,118.20L672.10,120.76L677.79,118.20" fill="none" stroke="#34b29b" stroke-width="1.6" stroke-linecap="round"/>
<g fill="#34b29b"><circle cx="668.40" cy="90.60" r="0.95"/><circle cx="672.00" cy="90.20" r="0.95"/><circle cx="675.70" cy="91.70" r="0.95"/><circle cx="667.30" cy="93.80" r="0.95"/><circle cx="672.00" cy="93.10" r="0.95"/><circle cx="676.80" cy="94.60" r="0.95"/><circle cx="670.20" cy="95.70" r="0.95"/><circle cx="672.00" cy="96.00" r="0.95"/><circle cx="674.20" cy="96.00" r="0.95"/><circle cx="668.40" cy="98.60" r="0.95"/><circle cx="675.30" cy="99.30" r="0.95"/><circle cx="672.00" cy="100.80" r="0.95"/><circle cx="668.00" cy="122.30" r="0.95"/><circle cx="671.00" cy="123.30" r="0.95"/><circle cx="674.00" cy="123.30" r="0.95"/><circle cx="677.00" cy="122.30" r="0.95"/><circle cx="672.20" cy="51.30" r="0.95"/></g>
<line x1="580.80" y1="107.10" x2="684.00" y2="107.10" stroke="#222" stroke-width="0.8" stroke-dasharray="1.3,1.3"/>
<line x1="591.10" y1="100.00" x2="591.10" y2="115.00" stroke="#111" stroke-width="0.8"/>
<line x1="588.10" y1="100.00" x2="594.10" y2="100.00" stroke="#111" stroke-width="0.8"/>
<line x1="588.10" y1="115.00" x2="594.10" y2="115.00" stroke="#111" stroke-width="0.8"/>
<line x1="585.60" y1="107.90" x2="596.60" y2="107.90" stroke="#111" stroke-width="1.1"/>
<path d="M583.00,110.75 L586.00,105.05 L589.00,110.75 Z" fill="#1c1c1c" stroke="none" stroke-width="1"/>
<path d="M588.10,110.45 L591.10,104.75 L594.10,110.45 Z" fill="#1c1c1c" stroke="none" stroke-width="1"/>
<path d="M593.20,110.75 L596.20,105.05 L599.20,110.75 Z" fill="#1c1c1c" stroke="none" stroke-width="1"/>
<line x1="607.20" y1="94.00" x2="607.20" y2="115.00" stroke="#111" stroke-width="0.8"/>
<line x1="604.20" y1="94.00" x2="610.20" y2="94.00" stroke="#111" stroke-width="0.8"/>
<line x1="604.20" y1="115.00" x2="610.20" y2="115.00" stroke="#111" stroke-width="0.8"/>
<line x1="601.70" y1="105.00" x2="612.70" y2="105.00" stroke="#111" stroke-width="1.1"/>
<path d="M600.30,99.05 L603.30,93.35 L606.30,99.05 Z" fill="#1c1c1c" stroke="none" stroke-width="1"/>
<path d="M608.30,108.55 L611.30,102.85 L614.30,108.55 Z" fill="#1c1c1c" stroke="none" stroke-width="1"/>
<path d="M604.40,114.35 L607.40,108.65 L610.40,114.35 Z" fill="#1c1c1c" stroke="none" stroke-width="1"/>
<line x1="623.40" y1="101.00" x2="623.40" y2="117.00" stroke="#111" stroke-width="0.8"/>
<line x1="620.40" y1="101.00" x2="626.40" y2="101.00" stroke="#111" stroke-width="0.8"/>
<line x1="620.40" y1="117.00" x2="626.40" y2="117.00" stroke="#111" stroke-width="0.8"/>
<line x1="617.90" y1="109.50" x2="628.90" y2="109.50" stroke="#111" stroke-width="1.1"/>
<path d="M616.00,114.35 L619.00,108.65 L622.00,114.35 Z" fill="#1c1c1c" stroke="none" stroke-width="1"/>
<path d="M620.00,109.95 L623.00,104.25 L626.00,109.95 Z" fill="#1c1c1c" stroke="none" stroke-width="1"/>
<path d="M623.90,115.05 L626.90,109.35 L629.90,115.05 Z" fill="#1c1c1c" stroke="none" stroke-width="1"/>
<line x1="639.40" y1="110.00" x2="639.40" y2="122.50" stroke="#111" stroke-width="0.8"/>
<line x1="636.40" y1="110.00" x2="642.40" y2="110.00" stroke="#111" stroke-width="0.8"/>
<line x1="636.40" y1="122.50" x2="642.40" y2="122.50" stroke="#111" stroke-width="0.8"/>
<line x1="633.90" y1="116.70" x2="644.90" y2="116.70" stroke="#111" stroke-width="1.1"/>
<path d="M632.30,118.85 L635.30,113.15 L638.30,118.85 Z" fill="#1c1c1c" stroke="none" stroke-width="1"/>
<path d="M637.00,116.25 L640.00,110.55 L643.00,116.25 Z" fill="#1c1c1c" stroke="none" stroke-width="1"/>
<path d="M640.80,126.25 L643.80,120.55 L646.80,126.25 Z" fill="#1c1c1c" stroke="none" stroke-width="1"/>
<line x1="655.70" y1="111.00" x2="655.70" y2="123.50" stroke="#111" stroke-width="0.8"/>
<line x1="652.70" y1="111.00" x2="658.70" y2="111.00" stroke="#111" stroke-width="0.8"/>
<line x1="652.70" y1="123.50" x2="658.70" y2="123.50" stroke="#111" stroke-width="0.8"/>
<line x1="650.20" y1="117.50" x2="661.20" y2="117.50" stroke="#111" stroke-width="1.1"/>
<path d="M652.40,118.25 L655.40,112.55 L658.40,118.25 Z" fill="#1c1c1c" stroke="none" stroke-width="1"/>
<path d="M656.80,126.25 L659.80,120.55 L662.80,126.25 Z" fill="#1c1c1c" stroke="none" stroke-width="1"/>
<path d="M649.70,121.55 L652.70,115.85 L655.70,121.55 Z" fill="#1c1c1c" stroke="none" stroke-width="1"/>
<line x1="672.10" y1="103.40" x2="672.10" y2="116.00" stroke="#111" stroke-width="0.8"/>
<line x1="669.10" y1="103.40" x2="675.10" y2="103.40" stroke="#111" stroke-width="0.8"/>
<line x1="669.10" y1="116.00" x2="675.10" y2="116.00" stroke="#111" stroke-width="0.8"/>
<line x1="666.60" y1="110.00" x2="677.60" y2="110.00" stroke="#111" stroke-width="1.1"/>
<path d="M665.00,110.85 L668.00,105.15 L671.00,110.85 Z" fill="#1c1c1c" stroke="none" stroke-width="1"/>
<path d="M669.70,112.25 L672.70,106.55 L675.70,112.25 Z" fill="#1c1c1c" stroke="none" stroke-width="1"/>
<path d="M673.00,118.25 L676.00,112.55 L679.00,118.25 Z" fill="#1c1c1c" stroke="none" stroke-width="1"/>
<line x1="580.50" y1="136.05" x2="682.50" y2="136.05" stroke="#555" stroke-width="1.05"/>
<line x1="591.10" y1="136.05" x2="591.10" y2="139.60" stroke="#5a5a5a" stroke-width="0.9"/>
<line x1="607.20" y1="136.05" x2="607.20" y2="139.60" stroke="#5a5a5a" stroke-width="0.9"/>
<line x1="623.40" y1="136.05" x2="623.40" y2="139.60" stroke="#5a5a5a" stroke-width="0.9"/>
<line x1="639.40" y1="136.05" x2="639.40" y2="139.60" stroke="#5a5a5a" stroke-width="0.9"/>
<line x1="655.70" y1="136.05" x2="655.70" y2="139.60" stroke="#5a5a5a" stroke-width="0.9"/>
<line x1="672.10" y1="136.05" x2="672.10" y2="139.60" stroke="#5a5a5a" stroke-width="0.9"/>
<text x="0.00" y="0.00" font-size="7.9" text-anchor="middle" fill="#1e1e1e" stroke="#1e1e1e" stroke-width="0.15" transform="translate(599.60 53.40) scale(0.91 1)">p= 0.561</text>
<path d="M591.00,58.80 L591.00,56.60 L607.90,56.60 L607.90,58.80" fill="none" stroke="#333" stroke-width="0.8"/>
<text x="0.00" y="0.00" font-size="7.9" text-anchor="middle" fill="#1e1e1e" stroke="#1e1e1e" stroke-width="0.15" transform="translate(607.80 41.70) scale(0.91 1)">p= 0.023</text>
<path d="M591.00,46.80 L591.00,44.60 L624.30,44.60 L624.30,46.80" fill="none" stroke="#333" stroke-width="0.8"/>
<text x="0.00" y="0.00" font-size="7.9" text-anchor="middle" fill="#1e1e1e" stroke="#1e1e1e" stroke-width="0.15" transform="translate(647.60 90.50) scale(0.91 1)">p= 0.535</text>
<path d="M639.20,95.40 L639.20,93.60 L656.20,93.60 L656.20,95.40" fill="none" stroke="#333" stroke-width="0.8"/>
<text x="0.00" y="0.00" font-size="7.9" text-anchor="middle" fill="#1e1e1e" stroke="#1e1e1e" stroke-width="0.15" transform="translate(656.50 77.40) scale(0.91 1)">p&lt; 0.0001</text>
<path d="M640.30,81.90 L640.30,80.30 L673.70,80.30 L673.70,81.90" fill="none" stroke="#333" stroke-width="0.8"/>
<text x="551.10" y="82.00" font-size="8.3" font-weight="bold" text-anchor="middle" fill="#111" stroke="#111" stroke-width="0.15" transform="rotate(-90 551.10 82.00)">Mean intensity at UVC sites</text>
<text x="561.70" y="83.30" font-size="8.2" font-weight="bold" text-anchor="middle" fill="#111" stroke="#111" stroke-width="0.15" transform="rotate(-90 561.70 83.30)">/siLuc 10 min</text>
<text x="592.60" y="142.90" font-size="7.4" text-anchor="end" fill="#222" stroke="#222" stroke-width="0.15" transform="rotate(-45 592.60 142.90)">siLuc</text>
<text x="608.70" y="142.90" font-size="7.4" text-anchor="end" fill="#222" stroke="#222" stroke-width="0.15" transform="rotate(-45 608.70 142.90)">siDNAJC9#1</text>
<text x="624.90" y="142.90" font-size="7.4" text-anchor="end" fill="#222" stroke="#222" stroke-width="0.15" transform="rotate(-45 624.90 142.90)">siXPG</text>
<text x="640.90" y="142.90" font-size="7.4" text-anchor="end" fill="#222" stroke="#222" stroke-width="0.15" transform="rotate(-45 640.90 142.90)">siLuc</text>
<text x="657.20" y="142.90" font-size="7.4" text-anchor="end" fill="#222" stroke="#222" stroke-width="0.15" transform="rotate(-45 657.20 142.90)">siDNAJC9#1</text>
<text x="673.60" y="142.90" font-size="7.4" text-anchor="end" fill="#222" stroke="#222" stroke-width="0.15" transform="rotate(-45 673.60 142.90)">siXPG</text>
<line x1="578.60" y1="175.80" x2="623.30" y2="175.80" stroke="#b0b0b0" stroke-width="1.0"/>
<line x1="629.10" y1="175.80" x2="672.80" y2="175.80" stroke="#b0b0b0" stroke-width="1.0"/>
<text x="0.00" y="0.00" font-size="7.9" text-anchor="middle" fill="#1e1e1e" stroke="#1e1e1e" stroke-width="0.15" transform="translate(603.10 183.50) scale(0.91 1)">10 min</text>
<text x="0.00" y="0.00" font-size="7.9" text-anchor="middle" fill="#1e1e1e" stroke="#1e1e1e" stroke-width="0.15" transform="translate(652.60 183.50) scale(0.91 1)">8 h</text>
<text x="0.00" y="0.00" font-size="7.9" text-anchor="middle" fill="#1e1e1e" stroke="#1e1e1e" stroke-width="0.15" transform="translate(629.40 193.80) scale(0.91 1)">post local UVC</text>
<text x="0.00" y="0.00" font-size="7.9" text-anchor="middle" fill="#1e1e1e" stroke="#1e1e1e" stroke-width="0.15" transform="translate(583.20 210.70) scale(0.91 1)">n=</text>
<text x="0.00" y="0.00" font-size="7.9" text-anchor="middle" fill="#1e1e1e" stroke="#1e1e1e" stroke-width="0.15" transform="translate(595.30 210.70) scale(0.91 1)">118</text>
<text x="0.00" y="0.00" font-size="7.9" text-anchor="middle" fill="#1e1e1e" stroke="#1e1e1e" stroke-width="0.15" transform="translate(610.60 210.70) scale(0.91 1)">119</text>
<text x="0.00" y="0.00" font-size="7.9" text-anchor="middle" fill="#1e1e1e" stroke="#1e1e1e" stroke-width="0.15" transform="translate(626.90 210.70) scale(0.91 1)">97</text>
<text x="0.00" y="0.00" font-size="7.9" text-anchor="middle" fill="#1e1e1e" stroke="#1e1e1e" stroke-width="0.15" transform="translate(645.00 210.70) scale(0.91 1)">125</text>
<text x="0.00" y="0.00" font-size="7.9" text-anchor="middle" fill="#1e1e1e" stroke="#1e1e1e" stroke-width="0.15" transform="translate(661.50 210.70) scale(0.91 1)">117</text>
<text x="0.00" y="0.00" font-size="7.9" text-anchor="middle" fill="#1e1e1e" stroke="#1e1e1e" stroke-width="0.15" transform="translate(676.90 210.70) scale(0.91 1)">96</text>
<text x="442.40" y="240.70" font-size="8.3" font-weight="bold" text-anchor="middle" fill="#111" stroke="#111" stroke-width="0.15">All H3.3-SNAP</text>
<text x="441.80" y="252.70" font-size="8.3" font-weight="bold" text-anchor="middle" fill="#111" stroke="#111" stroke-width="0.15">8 h post local UVC</text>
<line x1="404.40" y1="270.90" x2="404.40" y2="373.00" stroke="#8a8a8a" stroke-width="1.3"/>
<line x1="399.90" y1="372.50" x2="404.40" y2="372.50" stroke="#8a8a8a" stroke-width="1.3"/>
<text x="0.00" y="0.00" font-size="7.8" text-anchor="end" fill="#222" stroke="#222" stroke-width="0.15" transform="translate(398.80 375.00) scale(0.9 1)">0.0</text>
<line x1="399.90" y1="352.28" x2="404.40" y2="352.28" stroke="#8a8a8a" stroke-width="1.3"/>
<text x="0.00" y="0.00" font-size="7.8" text-anchor="end" fill="#222" stroke="#222" stroke-width="0.15" transform="translate(398.80 354.78) scale(0.9 1)">0.5</text>
<line x1="399.90" y1="332.06" x2="404.40" y2="332.06" stroke="#8a8a8a" stroke-width="1.3"/>
<text x="0.00" y="0.00" font-size="7.8" text-anchor="end" fill="#222" stroke="#222" stroke-width="0.15" transform="translate(398.80 334.56) scale(0.9 1)">1.0</text>
<line x1="399.90" y1="311.84" x2="404.40" y2="311.84" stroke="#8a8a8a" stroke-width="1.3"/>
<text x="0.00" y="0.00" font-size="7.8" text-anchor="end" fill="#222" stroke="#222" stroke-width="0.15" transform="translate(398.80 314.34) scale(0.9 1)">1.5</text>
<line x1="399.90" y1="291.62" x2="404.40" y2="291.62" stroke="#8a8a8a" stroke-width="1.3"/>
<text x="0.00" y="0.00" font-size="7.8" text-anchor="end" fill="#222" stroke="#222" stroke-width="0.15" transform="translate(398.80 294.12) scale(0.9 1)">2.0</text>
<line x1="399.90" y1="271.40" x2="404.40" y2="271.40" stroke="#8a8a8a" stroke-width="1.3"/>
<text x="0.00" y="0.00" font-size="7.8" text-anchor="end" fill="#222" stroke="#222" stroke-width="0.15" transform="translate(398.80 273.90) scale(0.9 1)">2.5</text>
<path d="M413.60,310.60L423.50,312.09L433.40,310.60M413.60,313.20L423.50,314.69L433.40,313.20M413.60,315.80L423.50,317.29L433.40,315.80M413.60,318.40L423.50,319.89L433.40,318.40M413.60,321.00L423.50,322.49L433.40,321.00M413.60,323.60L423.50,325.09L433.40,323.60M413.60,326.20L423.50,327.69L433.40,326.20M413.60,328.80L423.50,330.29L433.40,328.80" fill="none" stroke="#979797" stroke-width="1.3" stroke-linecap="round"/>
<g fill="#666"><circle cx="415.00" cy="301.20" r="0.8"/><circle cx="419.00" cy="301.20" r="0.8"/><circle cx="423.70" cy="301.20" r="0.8"/><circle cx="426.60" cy="301.20" r="0.8"/><circle cx="432.40" cy="301.20" r="0.8"/><circle cx="421.50" cy="303.80" r="0.8"/><circle cx="421.40" cy="306.50" r="0.8"/><circle cx="415.90" cy="306.83" r="0.8"/><circle cx="418.10" cy="307.05" r="0.8"/><circle cx="420.30" cy="307.27" r="0.8"/><circle cx="422.50" cy="307.49" r="0.8"/><circle cx="424.70" cy="307.49" r="0.8"/><circle cx="426.90" cy="307.27" r="0.8"/><circle cx="429.10" cy="307.05" r="0.8"/><circle cx="431.30" cy="306.83" r="0.8"/><circle cx="414.80" cy="332.92" r="0.8"/><circle cx="417.00" cy="333.14" r="0.8"/><circle cx="419.20" cy="333.36" r="0.8"/><circle cx="421.40" cy="333.58" r="0.8"/><circle cx="423.60" cy="333.80" r="0.8"/><circle cx="425.80" cy="333.58" r="0.8"/><circle cx="428.00" cy="333.36" r="0.8"/><circle cx="430.20" cy="333.14" r="0.8"/><circle cx="432.40" cy="332.92" r="0.8"/><circle cx="418.10" cy="335.25" r="0.8"/><circle cx="420.30" cy="335.47" r="0.8"/><circle cx="422.50" cy="335.69" r="0.8"/><circle cx="424.70" cy="335.69" r="0.8"/><circle cx="426.90" cy="335.47" r="0.8"/><circle cx="429.10" cy="335.25" r="0.8"/><circle cx="421.40" cy="338.50" r="0.8"/></g>
<path d="M443.30,313.90L452.50,315.74L461.70,313.90M443.28,316.40L452.50,318.24L461.72,316.40M443.25,318.90L452.50,320.75L461.75,318.90M443.23,321.40L452.50,323.25L461.77,321.40M443.20,323.90L452.50,325.76L461.80,323.90M443.18,326.40L452.50,328.26L461.82,326.40M443.15,328.90L452.50,330.77L461.85,328.90M443.13,331.40L452.50,333.27L461.87,331.40M443.10,333.90L452.50,335.78L461.90,333.90" fill="none" stroke="#c01d27" stroke-width="1.5" stroke-linecap="round"/>
<g fill="#c01d27"><circle cx="452.40" cy="283.40" r="0.95"/><circle cx="446.50" cy="306.30" r="0.95"/><circle cx="450.70" cy="308.00" r="0.95"/><circle cx="455.00" cy="306.30" r="0.95"/><circle cx="458.70" cy="305.40" r="0.95"/><circle cx="449.00" cy="310.50" r="0.95"/><circle cx="452.90" cy="311.40" r="0.95"/><circle cx="456.60" cy="310.80" r="0.95"/><circle cx="452.40" cy="341.70" r="0.95"/><circle cx="452.40" cy="344.80" r="0.95"/><circle cx="443.80" cy="335.82" r="0.95"/><circle cx="446.00" cy="336.04" r="0.95"/><circle cx="448.20" cy="336.26" r="0.95"/><circle cx="450.40" cy="336.48" r="0.95"/><circle cx="452.60" cy="336.70" r="0.95"/><circle cx="454.80" cy="336.48" r="0.95"/><circle cx="457.00" cy="336.26" r="0.95"/><circle cx="459.20" cy="336.04" r="0.95"/><circle cx="461.40" cy="335.82" r="0.95"/><circle cx="447.10" cy="337.85" r="0.95"/><circle cx="449.30" cy="338.07" r="0.95"/><circle cx="451.50" cy="338.29" r="0.95"/><circle cx="453.70" cy="338.29" r="0.95"/><circle cx="455.90" cy="338.07" r="0.95"/><circle cx="458.10" cy="337.85" r="0.95"/></g>
<line x1="404.60" y1="332.10" x2="469.00" y2="332.10" stroke="#222" stroke-width="0.8" stroke-dasharray="1.3,1.3"/>
<line x1="423.50" y1="314.00" x2="423.50" y2="330.30" stroke="#111" stroke-width="0.8"/>
<line x1="420.50" y1="314.00" x2="426.50" y2="314.00" stroke="#111" stroke-width="0.8"/>
<line x1="420.50" y1="330.30" x2="426.50" y2="330.30" stroke="#111" stroke-width="0.8"/>
<line x1="414.00" y1="322.50" x2="433.00" y2="322.50" stroke="#111" stroke-width="1.1"/>
<path d="M413.20,325.87 L415.80,320.93 L418.40,325.87 Z" fill="#1c1c1c" stroke="none" stroke-width="1"/>
<path d="M417.40,326.37 L420.00,321.43 L422.60,326.37 Z" fill="#1c1c1c" stroke="none" stroke-width="1"/>
<path d="M427.50,322.37 L430.10,317.43 L432.70,322.37 Z" fill="#1c1c1c" stroke="none" stroke-width="1"/>
<line x1="452.50" y1="320.00" x2="452.50" y2="336.10" stroke="#111" stroke-width="0.8"/>
<line x1="449.50" y1="320.00" x2="455.50" y2="320.00" stroke="#111" stroke-width="0.8"/>
<line x1="449.50" y1="336.10" x2="455.50" y2="336.10" stroke="#111" stroke-width="0.8"/>
<line x1="443.50" y1="326.60" x2="461.50" y2="326.60" stroke="#111" stroke-width="1.1"/>
<path d="M443.50,330.97 L446.10,326.03 L448.70,330.97 Z" fill="#1c1c1c" stroke="none" stroke-width="1"/>
<path d="M449.70,326.37 L452.30,321.43 L454.90,326.37 Z" fill="#1c1c1c" stroke="none" stroke-width="1"/>
<path d="M456.30,330.27 L458.90,325.33 L461.50,330.27 Z" fill="#1c1c1c" stroke="none" stroke-width="1"/>
<line x1="404.30" y1="372.60" x2="472.00" y2="372.60" stroke="#8a8a8a" stroke-width="1.4"/>
<line x1="423.50" y1="372.60" x2="423.50" y2="376.50" stroke="#6a6a6a" stroke-width="1.0"/>
<line x1="452.50" y1="372.60" x2="452.50" y2="376.50" stroke="#6a6a6a" stroke-width="1.0"/>
<text x="0.00" y="0.00" font-size="7.8" text-anchor="middle" fill="#1e1e1e" stroke="#1e1e1e" stroke-width="0.15" transform="translate(438.10 267.00) scale(0.91 1)">p&lt; 0.0001</text>
<path d="M423.20,271.90 L423.20,269.70 L452.60,269.70 L452.60,271.90" fill="none" stroke="#333" stroke-width="0.8"/>
<text x="375.00" y="321.60" font-size="6.9" font-weight="bold" text-anchor="middle" fill="#111" stroke="#111" stroke-width="0.15" transform="rotate(-90 375.00 321.60)">Mean intensity at UV sites</text>
<text x="385.00" y="321.70" font-size="6.9" font-weight="bold" text-anchor="middle" fill="#111" stroke="#111" stroke-width="0.15" transform="rotate(-90 385.00 321.70)">/nucleus</text>
<text x="0.00" y="0.00" font-size="7.8" text-anchor="middle" fill="#1e1e1e" stroke="#1e1e1e" stroke-width="0.15" transform="translate(422.80 367.70) scale(0.91 1)">n= 143</text>
<text x="0.00" y="0.00" font-size="7.8" text-anchor="middle" fill="#1e1e1e" stroke="#1e1e1e" stroke-width="0.15" transform="translate(452.30 367.70) scale(0.91 1)">n= 181</text>
<text x="423.60" y="382.20" font-size="7.4" text-anchor="end" fill="#222" stroke="#222" stroke-width="0.15" transform="rotate(-45 423.60 382.20)">siLuc</text>
<text x="452.60" y="382.20" font-size="7.4" text-anchor="end" fill="#222" stroke="#222" stroke-width="0.15" transform="rotate(-45 452.60 382.20)">siDNAJC9#1</text>
<text x="617.20" y="240.70" font-size="8.3" font-weight="bold" text-anchor="middle" fill="#111" stroke="#111" stroke-width="0.15">All H3.3-SNAP</text>
<text x="616.20" y="252.70" font-size="8.3" font-weight="bold" text-anchor="middle" fill="#111" stroke="#111" stroke-width="0.15">8 h post local UVC</text>
<line x1="580.80" y1="271.80" x2="580.80" y2="373.10" stroke="#808080" stroke-width="1.3"/>
<line x1="575.80" y1="372.60" x2="580.80" y2="372.60" stroke="#808080" stroke-width="1.3"/>
<text x="0.00" y="0.00" font-size="7.8" text-anchor="end" fill="#222" stroke="#222" stroke-width="0.15" transform="translate(572.50 375.10) scale(0.92 1)">0.0</text>
<line x1="575.80" y1="347.53" x2="580.80" y2="347.53" stroke="#808080" stroke-width="1.3"/>
<text x="0.00" y="0.00" font-size="7.8" text-anchor="end" fill="#222" stroke="#222" stroke-width="0.15" transform="translate(572.50 350.03) scale(0.92 1)">0.5</text>
<line x1="575.80" y1="322.45" x2="580.80" y2="322.45" stroke="#808080" stroke-width="1.3"/>
<text x="0.00" y="0.00" font-size="7.8" text-anchor="end" fill="#222" stroke="#222" stroke-width="0.15" transform="translate(572.50 324.95) scale(0.92 1)">1.0</text>
<line x1="575.80" y1="297.38" x2="580.80" y2="297.38" stroke="#808080" stroke-width="1.3"/>
<text x="0.00" y="0.00" font-size="7.8" text-anchor="end" fill="#222" stroke="#222" stroke-width="0.15" transform="translate(572.50 299.88) scale(0.92 1)">1.5</text>
<line x1="575.80" y1="272.30" x2="580.80" y2="272.30" stroke="#808080" stroke-width="1.3"/>
<text x="0.00" y="0.00" font-size="7.8" text-anchor="end" fill="#222" stroke="#222" stroke-width="0.15" transform="translate(572.50 274.80) scale(0.92 1)">2.0</text>
<path d="M589.80,304.50L599.60,305.97L609.40,304.50M589.80,306.90L599.60,308.37L609.40,306.90M589.80,309.30L599.60,310.77L609.40,309.30M589.80,311.70L599.60,313.17L609.40,311.70M589.80,314.10L599.60,315.57L609.40,314.10M589.80,316.50L599.60,317.97L609.40,316.50M589.80,318.90L599.60,320.37L609.40,318.90M589.80,321.30L599.60,322.77L609.40,321.30" fill="none" stroke="#979797" stroke-width="1.3" stroke-linecap="round"/>
<g fill="#666"><circle cx="599.50" cy="277.40" r="0.8"/><circle cx="599.50" cy="280.20" r="0.8"/><circle cx="599.50" cy="285.30" r="0.8"/><circle cx="597.50" cy="295.70" r="0.8"/><circle cx="601.40" cy="295.50" r="0.8"/><circle cx="595.10" cy="299.20" r="0.8"/><circle cx="603.60" cy="299.20" r="0.8"/><circle cx="599.50" cy="301.50" r="0.8"/><circle cx="590.80" cy="301.82" r="0.8"/><circle cx="593.00" cy="302.04" r="0.8"/><circle cx="595.20" cy="302.26" r="0.8"/><circle cx="597.40" cy="302.48" r="0.8"/><circle cx="599.60" cy="302.70" r="0.8"/><circle cx="601.80" cy="302.48" r="0.8"/><circle cx="604.00" cy="302.26" r="0.8"/><circle cx="606.20" cy="302.04" r="0.8"/><circle cx="608.40" cy="301.82" r="0.8"/><circle cx="590.80" cy="322.72" r="0.8"/><circle cx="593.00" cy="322.94" r="0.8"/><circle cx="595.20" cy="323.16" r="0.8"/><circle cx="597.40" cy="323.38" r="0.8"/><circle cx="599.60" cy="323.60" r="0.8"/><circle cx="601.80" cy="323.38" r="0.8"/><circle cx="604.00" cy="323.16" r="0.8"/><circle cx="606.20" cy="322.94" r="0.8"/><circle cx="608.40" cy="322.72" r="0.8"/><circle cx="595.20" cy="324.96" r="0.8"/><circle cx="597.40" cy="325.18" r="0.8"/><circle cx="599.60" cy="325.40" r="0.8"/><circle cx="601.80" cy="325.18" r="0.8"/><circle cx="604.00" cy="324.96" r="0.8"/><circle cx="599.50" cy="328.20" r="0.8"/><circle cx="599.50" cy="331.80" r="0.8"/><circle cx="599.50" cy="336.10" r="0.8"/></g>
<path d="M619.50,307.80L628.50,309.60L637.50,307.80M619.20,310.30L628.50,312.16L637.80,310.30" fill="none" stroke="#c01d27" stroke-width="1.5" stroke-linecap="round"/>
<path d="M619.20,314.50L628.50,316.36L637.80,314.50M619.18,317.00L628.50,318.86L637.82,317.00M619.16,319.50L628.50,321.37L637.84,319.50M619.15,322.00L628.50,323.87L637.85,322.00M619.13,324.50L628.50,326.37L637.87,324.50M619.11,327.00L628.50,328.88L637.89,327.00" fill="none" stroke="#c01d27" stroke-width="1.5" stroke-linecap="round"/>
<g fill="#c01d27"><circle cx="622.30" cy="298.90" r="0.95"/><circle cx="626.10" cy="298.90" r="0.95"/><circle cx="630.40" cy="298.90" r="0.95"/><circle cx="634.40" cy="298.90" r="0.95"/><circle cx="622.30" cy="301.90" r="0.95"/><circle cx="634.40" cy="301.90" r="0.95"/><circle cx="626.10" cy="303.70" r="0.95"/><circle cx="630.40" cy="303.70" r="0.95"/><circle cx="622.30" cy="305.50" r="0.95"/><circle cx="634.40" cy="305.50" r="0.95"/><circle cx="626.00" cy="286.40" r="0.95"/><circle cx="630.00" cy="286.40" r="0.95"/><circle cx="619.00" cy="330.40" r="0.95"/><circle cx="623.50" cy="330.40" r="0.95"/><circle cx="629.00" cy="330.40" r="0.95"/><circle cx="634.50" cy="330.40" r="0.95"/><circle cx="619.00" cy="333.50" r="0.95"/><circle cx="623.50" cy="333.50" r="0.95"/><circle cx="629.00" cy="333.50" r="0.95"/><circle cx="634.50" cy="333.50" r="0.95"/><circle cx="626.00" cy="336.50" r="0.95"/><circle cx="630.40" cy="336.50" r="0.95"/><circle cx="626.00" cy="340.80" r="0.95"/><circle cx="630.40" cy="340.80" r="0.95"/></g>
<line x1="580.70" y1="322.50" x2="645.00" y2="322.50" stroke="#222" stroke-width="0.8" stroke-dasharray="1.3,1.3"/>
<line x1="599.60" y1="304.50" x2="599.60" y2="325.20" stroke="#111" stroke-width="0.8"/>
<line x1="596.60" y1="304.50" x2="602.60" y2="304.50" stroke="#111" stroke-width="0.8"/>
<line x1="596.60" y1="325.20" x2="602.60" y2="325.20" stroke="#111" stroke-width="0.8"/>
<line x1="590.10" y1="313.00" x2="609.10" y2="313.00" stroke="#111" stroke-width="1.1"/>
<path d="M589.90,313.27 L592.50,308.33 L595.10,313.27 Z" fill="#1c1c1c" stroke="none" stroke-width="1"/>
<path d="M596.90,317.97 L599.50,313.03 L602.10,317.97 Z" fill="#1c1c1c" stroke="none" stroke-width="1"/>
<path d="M603.80,317.27 L606.40,312.33 L609.00,317.27 Z" fill="#1c1c1c" stroke="none" stroke-width="1"/>
<line x1="628.50" y1="309.50" x2="628.50" y2="330.40" stroke="#111" stroke-width="0.8"/>
<line x1="625.50" y1="309.50" x2="631.50" y2="309.50" stroke="#111" stroke-width="0.8"/>
<line x1="625.50" y1="330.40" x2="631.50" y2="330.40" stroke="#111" stroke-width="0.8"/>
<line x1="620.00" y1="320.10" x2="637.00" y2="320.10" stroke="#111" stroke-width="1.1"/>
<path d="M619.90,321.97 L622.50,317.03 L625.10,321.97 Z" fill="#1c1c1c" stroke="none" stroke-width="1"/>
<path d="M625.40,320.97 L628.00,316.03 L630.60,320.97 Z" fill="#1c1c1c" stroke="none" stroke-width="1"/>
<path d="M631.20,322.27 L633.80,317.33 L636.40,322.27 Z" fill="#1c1c1c" stroke="none" stroke-width="1"/>
<line x1="576.40" y1="372.80" x2="647.70" y2="372.80" stroke="#8a8a8a" stroke-width="1.4"/>
<line x1="599.60" y1="372.80" x2="599.60" y2="376.60" stroke="#6a6a6a" stroke-width="1.0"/>
<line x1="628.50" y1="372.80" x2="628.50" y2="376.60" stroke="#6a6a6a" stroke-width="1.0"/>
<text x="0.00" y="0.00" font-size="7.8" text-anchor="middle" fill="#1e1e1e" stroke="#1e1e1e" stroke-width="0.15" transform="translate(615.00 266.80) scale(0.91 1)">p&lt; 0.0001</text>
<path d="M600.00,271.70 L600.00,269.50 L630.20,269.50 L630.20,271.70" fill="none" stroke="#333" stroke-width="0.8"/>
<text x="549.00" y="321.60" font-size="6.9" font-weight="bold" text-anchor="middle" fill="#111" stroke="#111" stroke-width="0.15" transform="rotate(-90 549.00 321.60)">Mean intensity at UV sites</text>
<text x="556.50" y="320.20" font-size="6.9" font-weight="bold" text-anchor="middle" fill="#111" stroke="#111" stroke-width="0.15" transform="rotate(-90 556.50 320.20)">/nucleus</text>
<text x="0.00" y="0.00" font-size="7.8" text-anchor="middle" fill="#1e1e1e" stroke="#1e1e1e" stroke-width="0.15" transform="translate(599.20 368.20) scale(0.91 1)">n= 133</text>
<text x="0.00" y="0.00" font-size="7.8" text-anchor="middle" fill="#1e1e1e" stroke="#1e1e1e" stroke-width="0.15" transform="translate(629.00 368.20) scale(0.91 1)">n= 112</text>
<text x="599.70" y="382.30" font-size="7.4" text-anchor="end" fill="#222" stroke="#222" stroke-width="0.15" transform="rotate(-45 599.70 382.30)">siLuc</text>
<text x="628.60" y="382.30" font-size="7.4" text-anchor="end" fill="#222" stroke="#222" stroke-width="0.15" transform="rotate(-45 628.60 382.30)">siDNAJC9#3</text>
</svg></div></body></html>
